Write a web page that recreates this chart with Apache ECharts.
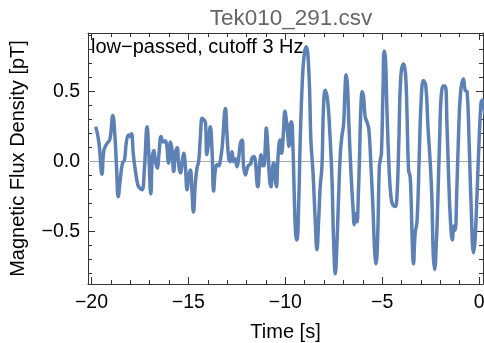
<!DOCTYPE html>
<html>
<head>
<meta charset="utf-8">
<script src="https://cdn.jsdelivr.net/npm/echarts@6/dist/echarts.min.js"></script>
<style>
  html, body { margin: 0; padding: 0; background: #fff; }
  #chart { width: 484px; height: 343px; }
</style>
</head>
<body>
<div id="chart"></div>
<script>
// time axis [s] and low-passed flux density [pT]
const timeS = [
  -19.78, -19.62, -19.46, -19.36, -19.20, -19.05, -18.90, -18.79, -18.71, -18.62,
  -18.51, -18.40, -18.30, -18.20, -18.09, -18.02, -17.94, -17.84, -17.73, -17.60,
  -17.50, -17.39, -17.27, -17.13, -17.05, -16.94, -16.86, -16.78, -16.70, -16.61,
  -16.52, -16.41, -16.30, -16.19, -16.02, -15.93, -15.84, -15.76, -15.67, -15.58,
  -15.50, -15.41, -15.32, -15.24, -15.15, -15.07, -14.98, -14.90, -14.82, -14.74,
  -14.64, -14.55, -14.47, -14.38, -14.29, -14.21, -14.12, -14.05, -13.95, -13.87,
  -13.78, -13.70, -13.61, -13.52, -13.43, -13.35, -13.26, -13.09, -13.01, -12.92,
  -12.84, -12.75, -12.66, -12.58, -12.49, -12.41, -12.32, -12.23, -12.15, -12.06,
  -11.97, -11.89, -11.80, -11.72, -11.63, -11.55, -11.46, -11.42, -11.32, -11.25,
  -11.19, -11.11, -11.03, -10.98, -10.90, -10.81, -10.74, -10.67, -10.60, -10.52,
  -10.46, -10.39, -10.32, -10.26, -10.19, -10.10, -10.02, -9.95, -9.88, -9.81,
  -9.74, -9.68, -9.60, -9.54, -9.47, -9.40, -9.31, -9.23, -9.12, -9.02,
  -8.92, -8.78, -8.68, -8.57, -8.45, -8.37, -8.28, -8.20, -8.11, -8.03,
  -7.94, -7.82, -7.72, -7.59, -7.51, -7.42, -7.34, -7.25, -7.16, -7.08,
  -6.99, -6.92, -6.86, -6.79, -6.72, -6.61, -6.51, -6.44, -6.38, -6.30,
  -6.24, -6.17, -6.10, -6.03, -5.96, -5.88, -5.79, -5.69, -5.58, -5.48,
  -5.40, -5.32, -5.24, -5.15, -5.10, -5.04, -4.96, -4.90, -4.83, -4.76,
  -4.65, -4.55, -4.45, -4.33, -4.24, -4.14, -4.04, -3.90, -3.80, -3.73,
  -3.64, -3.56, -3.51, -3.44, -3.39, -3.30, -3.20, -3.09, -2.99, -2.87,
  -2.75, -2.64, -2.53, -2.44, -2.37, -2.30, -2.20, -2.13, -2.03, -1.96,
  -1.84, -1.75, -1.66, -1.58, -1.48, -1.38, -1.30, -1.24, -1.15, -1.07,
  -0.96, -0.81, -0.72, -0.62, -0.52, -0.41, -0.29, -0.21, -0.10, 0.00,
  0.10, 0.17, 0.24, 0.36
];
const fluxPT = [
  0.25, 0.14, -0.09, 0.08, 0.13, 0.16, 0.33, 0.18, -0.03, -0.25,
  -0.12, -0.01, 0.01, 0.14, 0.19, 0.18, 0.20, 0.05, -0.07, -0.17,
  -0.19, -0.20, -0.05, 0.25, 0.08, -0.23, 0.03, 0.08, 0.00, -0.045,
  0.05, 0.18, 0.14, 0.15, -0.01, 0.14, 0.08, -0.07, 0.06, 0.10,
  -0.02, -0.08, 0.00, 0.06, -0.05, -0.20, -0.10, -0.06, -0.20, -0.36,
  -0.15, -0.04, 0.00, 0.18, 0.31, 0.30, 0.28, 0.05, 0.15, 0.25,
  0.08, -0.21, -0.06, -0.02, -0.03, 0.01, 0.10, 0.38, 0.20, 0.025,
  0.00, 0.07, 0.00, 0.02, -0.036, 0.02, 0.13, 0.155, -0.036, -0.095,
  -0.05, -0.024, -0.02, 0.024, 0.036, 0.01, -0.155, -0.18, -0.01, 0.05,
  -0.024, -0.03, 0.12, 0.24, 0.10, -0.13, -0.18, -0.05, -0.01, -0.13,
  -0.18, 0.00, 0.13, 0.155, 0.06, 0.20, 0.36, 0.30, 0.20, 0.11,
  0.27, 0.285, 0.08, -0.23, -0.51, -0.56, -0.30, 0.155, 0.58, 0.77,
  0.82, 0.63, 0.155, -0.08, -0.44, -0.63, -0.42, -0.18, -0.036, 0.39,
  0.51, 0.44, 0.25, -0.13, -0.56, -0.80, -0.60, -0.25, 0.06, 0.18,
  0.27, 0.51, 0.62, 0.54, 0.27, -0.08, -0.32, -0.45, -0.37, -0.43,
  -0.27, 0.036, 0.39, 0.50, 0.46, 0.32, 0.285, 0.23, -0.036, -0.32,
  -0.61, -0.73, -0.56, -0.036, 0.01, 0.06, 0.51, 0.79, 0.73, 0.39,
  -0.036, -0.25, -0.31, -0.32, -0.25, 0.155, 0.61, 0.70, 0.63, 0.39,
  -0.06, -0.107, -0.27, -0.61, -0.73, -0.51, -0.42, 0.036, 0.44, 0.58,
  0.54, 0.25, 0.01, -0.25, -0.65, -0.77, -0.56, -0.27, 0.20, 0.46,
  0.54, 0.54, 0.27, -0.08, -0.42, -0.56, -0.46, -0.49, -0.20, 0.155,
  0.49, 0.59, 0.51, 0.50, 0.155, -0.32, -0.65, -0.56, -0.20, 0.155,
  0.42, 0.44, 0.39, 0.30
];

// tick positions
const xMajorTicks = [-20, -15, -10, -5, 0];
const xMinorTicks = [-20, -19, -18, -17, -16, -15, -14, -13, -12, -11, -10, -9, -8, -7, -6, -5, -4, -3, -2, -1, 0];
const yMajorTicks = [-0.5, 0, 0.5];
const yMinorTicks = [-0.8, -0.7, -0.6, -0.5, -0.4, -0.3, -0.2, -0.1, 0, 0.1, 0.2, 0.3, 0.4, 0.5, 0.6, 0.7, 0.8, 0.9];

const xRange = [-20.18, 0.2];
const yRange = [-0.874, 0.919];

const FONT = 'Liberation Sans, Arial, sans-serif';
const FRAME = '#333';
const LABEL_SIZE = 19.5;

const minus = s => String(s).replace('-', '\u2212');

function xAx(pos, custom, len, labels) {
  return {
    type: 'value', position: pos, min: xRange[0], max: xRange[1],
    axisLine: { show: labels !== null, onZero: false, lineStyle: { color: FRAME, width: 1 } },
    axisTick: { show: true, inside: true, length: len, customValues: custom, lineStyle: { color: FRAME } },
    axisLabel: labels ? {
      show: true, customValues: custom, margin: 9, color: '#000', fontFamily: FONT, fontSize: LABEL_SIZE,
      formatter: v => minus(Math.round(v))
    } : { show: false },
    splitLine: { show: false }
  };
}
function yAx(pos, custom, len, labels) {
  return {
    type: 'value', position: pos, min: yRange[0], max: yRange[1],
    axisLine: { show: labels !== null, onZero: false, lineStyle: { color: FRAME, width: 1 } },
    axisTick: { show: true, inside: true, length: len, customValues: custom, lineStyle: { color: FRAME } },
    axisLabel: labels ? {
      show: true, customValues: custom, margin: 8, color: '#000', fontFamily: FONT, fontSize: LABEL_SIZE,
      formatter: v => minus(v.toFixed(1))
    } : { show: false },
    splitLine: { show: false }
  };
}

const xAxes = [
  Object.assign(xAx('bottom', xMajorTicks, 7, true), {
    name: 'Time [s]', nameLocation: 'middle', nameGap: 38,
    nameTextStyle: { color: '#000', fontFamily: FONT, fontSize: 20 }
  }),
  xAx('bottom', xMinorTicks, 4, null),
  xAx('top', xMajorTicks, 7, false),
  xAx('top', xMinorTicks, 4, null)
];
const yAxes = [
  Object.assign(yAx('left', yMajorTicks, 7, true), {
    name: 'Magnetic Flux Density [pT]', nameLocation: 'middle', nameGap: 60, nameRotate: 90,
    nameTextStyle: { color: '#000', fontFamily: FONT, fontSize: 20 }
  }),
  yAx('left', yMinorTicks, 4, null),
  yAx('right', yMajorTicks, 7, false),
  yAx('right', yMinorTicks, 4, null)
];

const chart = echarts.init(document.getElementById('chart'), null, { renderer: 'canvas' });
chart.setOption({
  animation: false,
  backgroundColor: '#fff',
  title: {
    text: 'Tek010_291.csv', left: 286, top: 2, textAlign: 'center',
    textStyle: { color: '#666', fontFamily: FONT, fontSize: 22.5, fontWeight: 'normal' }
  },
  grid: { left: 88, top: 33, right: 1, bottom: 59, containLabel: false, outerBoundsMode: 'none' },
  xAxis: xAxes,
  yAxis: yAxes,
  graphic: [{
    type: 'text', left: 91, top: 37, z: 10,
    style: { text: 'low\u2212passed, cutoff 3 Hz', fill: '#000', font: '20px ' + FONT }
  }],
  series: [{
    type: 'line',
    xAxisIndex: 0, yAxisIndex: 0,
    data: timeS.map((t, i) => [t, fluxPT[i]]),
    showSymbol: false,
    smooth: 0.45,
    clip: true,
    lineStyle: { color: '#5E81B5', width: 3.5 },
    markLine: {
      silent: true, symbol: 'none', label: { show: false },
      lineStyle: { color: '#aaa', width: 1, type: 'solid' },
      data: [{ yAxis: 0 }],
      z: 1
    },
    z: 3
  }]
});
</script>
</body>
</html>
